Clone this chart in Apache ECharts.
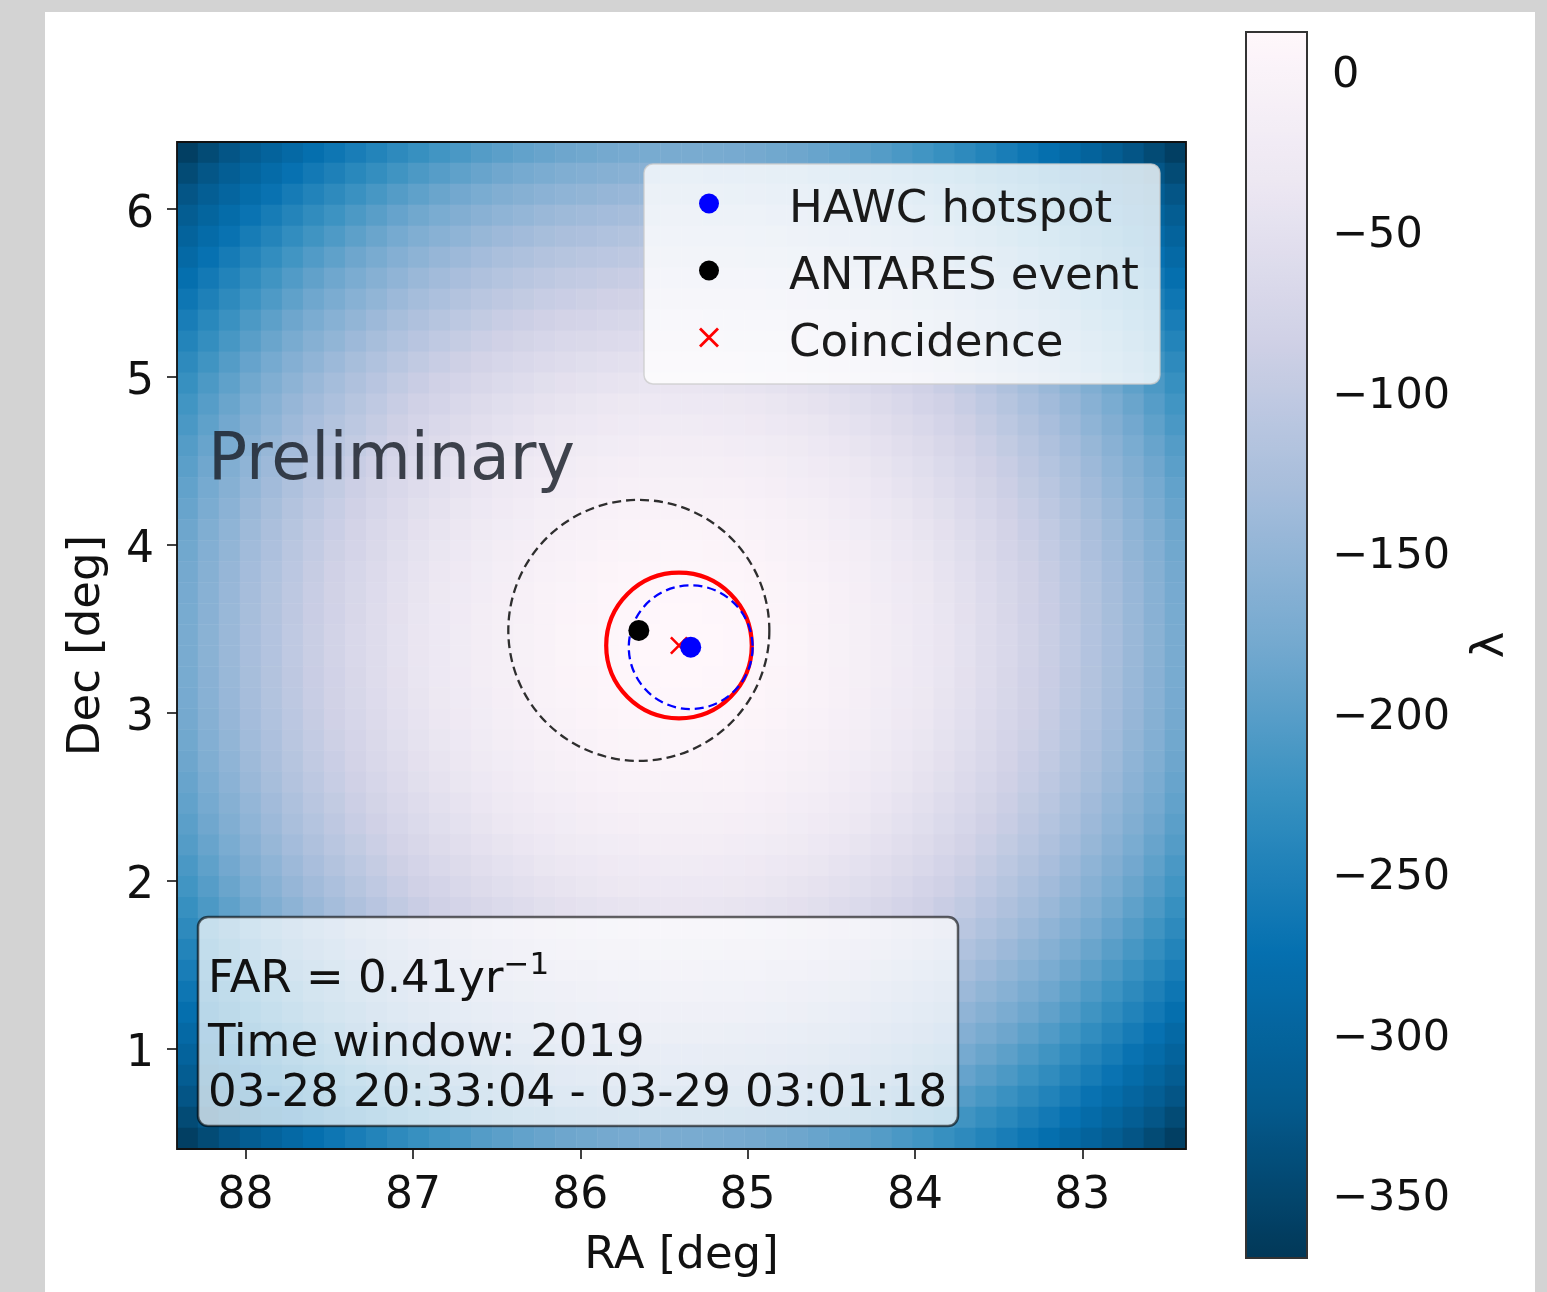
<!DOCTYPE html>
<html>
<head>
<meta charset="utf-8">
<script src="https://cdn.jsdelivr.net/npm/echarts@6/dist/echarts.min.js"></script>
<style>
html, body { margin: 0; padding: 0; background: #d3d3d3; }
#fig { position: absolute; left: 45px; top: 12px; width: 1490px; height: 1280px; background: #ffffff; }
#chart { position: absolute; left: 0; top: 0; width: 1547px; height: 1292px; }
</style>
</head>
<body>
<div id="fig"></div>
<div id="chart"></div>
<script>
// ---------------- data ----------------
const raTicks = [88, 87, 86, 85, 84, 83];
const decTicks = [1, 2, 3, 4, 5, 6];
const lambdaTicks = [0, -50, -100, -150, -200, -250, -300, -350];
const raRange = [82.38, 88.41];
const decRange = [0.40, 6.40];
const lambdaRange = [-370, 12];

const hawcHotspot = [85.34, 3.39];
const antaresEvent = [85.65, 3.49];
const coincidence = [85.41, 3.40];
const antaresRadius = 0.78;
const hawcRadius = 0.37;
const coincidenceRadius = 0.435;

const legendNames = ['HAWC hotspot', 'ANTARES event', 'Coincidence'];
const farText = 'FAR = 0.41yr';
const farExp = '\u22121';
const windowLine1 = 'Time window: 2019';
const windowLine2 = '03-28 20:33:04 - 03-29 03:01:18';

// λ map (48 x 48 cells of ~0.125 deg), rows from top (Dec 6.4) to bottom (Dec 0.4),
// columns from left (RA 88.4) to right (RA 82.4)
const lambdaRows = [
  [-360,-344,-329,-315,-302,-289,-277,-266,-255,-245,-235,-226,-218,-211,-204,-198,-193,-188,-184,-181,-178,-176,-175,-174,-174,-175,-176,-178,-181,-184,-188,-193,-198,-204,-211,-218,-226,-235,-245,-255,-266,-277,-289,-302,-315,-329,-344,-360],
  [-344,-328,-313,-299,-286,-273,-261,-250,-239,-229,-219,-210,-202,-195,-188,-182,-177,-172,-168,-165,-162,-160,-159,-158,-158,-159,-160,-162,-165,-168,-172,-177,-182,-188,-195,-202,-210,-219,-229,-239,-250,-261,-273,-286,-299,-313,-328,-344],
  [-329,-313,-298,-284,-271,-258,-246,-235,-224,-214,-204,-195,-187,-180,-173,-167,-162,-157,-153,-150,-147,-145,-144,-143,-143,-144,-145,-147,-150,-153,-157,-162,-167,-173,-180,-187,-195,-204,-214,-224,-235,-246,-258,-271,-284,-298,-313,-329],
  [-315,-299,-284,-270,-257,-244,-232,-221,-210,-200,-190,-181,-173,-166,-159,-153,-148,-143,-139,-136,-133,-131,-130,-129,-129,-130,-131,-133,-136,-139,-143,-148,-153,-159,-166,-173,-181,-190,-200,-210,-221,-232,-244,-257,-270,-284,-299,-315],
  [-302,-286,-271,-257,-244,-231,-219,-208,-197,-187,-177,-168,-160,-153,-146,-140,-135,-130,-126,-123,-120,-118,-117,-116,-116,-117,-118,-120,-123,-126,-130,-135,-140,-146,-153,-160,-168,-177,-187,-197,-208,-219,-231,-244,-257,-271,-286,-302],
  [-289,-273,-258,-244,-231,-218,-206,-195,-184,-174,-164,-155,-147,-140,-133,-127,-122,-117,-113,-110,-107,-105,-104,-103,-103,-104,-105,-107,-110,-113,-117,-122,-127,-133,-140,-147,-155,-164,-174,-184,-195,-206,-218,-231,-244,-258,-273,-289],
  [-277,-261,-246,-232,-219,-206,-194,-183,-172,-162,-152,-143,-135,-128,-121,-115,-110,-105,-101,-98,-95,-93,-92,-91,-91,-92,-93,-95,-98,-101,-105,-110,-115,-121,-128,-135,-143,-152,-162,-172,-183,-194,-206,-219,-232,-246,-261,-277],
  [-266,-250,-235,-221,-208,-195,-183,-172,-161,-151,-141,-132,-124,-117,-110,-104,-99,-94,-90,-87,-84,-82,-81,-80,-80,-81,-82,-84,-87,-90,-94,-99,-104,-110,-117,-124,-132,-141,-151,-161,-172,-183,-195,-208,-221,-235,-250,-266],
  [-255,-239,-224,-210,-197,-184,-172,-161,-150,-140,-130,-121,-113,-106,-99,-93,-88,-83,-79,-76,-73,-71,-70,-69,-69,-70,-71,-73,-76,-79,-83,-88,-93,-99,-106,-113,-121,-130,-140,-150,-161,-172,-184,-197,-210,-224,-239,-255],
  [-245,-229,-214,-200,-187,-174,-162,-151,-140,-130,-120,-111,-103,-96,-89,-83,-78,-73,-69,-66,-63,-61,-60,-59,-59,-60,-61,-63,-66,-69,-73,-78,-83,-89,-96,-103,-111,-120,-130,-140,-151,-162,-174,-187,-200,-214,-229,-245],
  [-235,-219,-204,-190,-177,-164,-152,-141,-130,-120,-110,-101,-93,-86,-79,-73,-68,-63,-59,-56,-53,-51,-50,-49,-49,-50,-51,-53,-56,-59,-63,-68,-73,-79,-86,-93,-101,-110,-120,-130,-141,-152,-164,-177,-190,-204,-219,-235],
  [-226,-210,-195,-181,-168,-155,-143,-132,-121,-111,-101,-92,-84,-77,-70,-64,-59,-54,-50,-47,-44,-42,-41,-40,-40,-41,-42,-44,-47,-50,-54,-59,-64,-70,-77,-84,-92,-101,-111,-121,-132,-143,-155,-168,-181,-195,-210,-226],
  [-218,-202,-187,-173,-160,-147,-135,-124,-113,-103,-93,-84,-76,-69,-62,-56,-51,-46,-42,-39,-36,-34,-33,-32,-32,-33,-34,-36,-39,-42,-46,-51,-56,-62,-69,-76,-84,-93,-103,-113,-124,-135,-147,-160,-173,-187,-202,-218],
  [-211,-195,-180,-166,-153,-140,-128,-117,-106,-96,-86,-77,-69,-62,-55,-49,-44,-39,-35,-32,-29,-27,-26,-25,-25,-26,-27,-29,-32,-35,-39,-44,-49,-55,-62,-69,-77,-86,-96,-106,-117,-128,-140,-153,-166,-180,-195,-211],
  [-204,-188,-173,-159,-146,-133,-121,-110,-99,-89,-79,-70,-62,-55,-48,-42,-37,-32,-28,-25,-22,-20,-19,-18,-18,-19,-20,-22,-25,-28,-32,-37,-42,-48,-55,-62,-70,-79,-89,-99,-110,-121,-133,-146,-159,-173,-188,-204],
  [-198,-182,-167,-153,-140,-127,-115,-104,-93,-83,-73,-64,-56,-49,-42,-36,-31,-26,-22,-19,-16,-14,-13,-12,-12,-13,-14,-16,-19,-22,-26,-31,-36,-42,-49,-56,-64,-73,-83,-93,-104,-115,-127,-140,-153,-167,-182,-198],
  [-193,-177,-162,-148,-135,-122,-110,-99,-88,-78,-68,-59,-51,-44,-37,-31,-26,-21,-17,-14,-11,-9,-8,-7,-7,-8,-9,-11,-14,-17,-21,-26,-31,-37,-44,-51,-59,-68,-78,-88,-99,-110,-122,-135,-148,-162,-177,-193],
  [-188,-172,-157,-143,-130,-117,-105,-94,-83,-73,-63,-54,-46,-39,-32,-26,-21,-16,-12,-9,-6,-4,-3,-2,-2,-3,-4,-6,-9,-12,-16,-21,-26,-32,-39,-46,-54,-63,-73,-83,-94,-105,-117,-130,-143,-157,-172,-188],
  [-184,-168,-153,-139,-126,-113,-101,-90,-79,-69,-59,-50,-42,-35,-28,-22,-17,-12,-8,-5,-2,0,1,2,2,1,0,-2,-5,-8,-12,-17,-22,-28,-35,-42,-50,-59,-69,-79,-90,-101,-113,-126,-139,-153,-168,-184],
  [-181,-165,-150,-136,-123,-110,-98,-87,-76,-66,-56,-47,-39,-32,-25,-19,-14,-9,-5,-2,1,3,4,5,5,4,3,1,-2,-5,-9,-14,-19,-25,-32,-39,-47,-56,-66,-76,-87,-98,-110,-123,-136,-150,-165,-181],
  [-178,-162,-147,-133,-120,-107,-95,-84,-73,-63,-53,-44,-36,-29,-22,-16,-11,-6,-2,1,4,6,7,8,8,7,6,4,1,-2,-6,-11,-16,-22,-29,-36,-44,-53,-63,-73,-84,-95,-107,-120,-133,-147,-162,-178],
  [-176,-160,-145,-131,-118,-105,-93,-82,-71,-61,-51,-42,-34,-27,-20,-14,-9,-4,0,3,6,8,9,10,10,9,8,6,3,0,-4,-9,-14,-20,-27,-34,-42,-51,-61,-71,-82,-93,-105,-118,-131,-145,-160,-176],
  [-175,-159,-144,-130,-117,-104,-92,-81,-70,-60,-50,-41,-33,-26,-19,-13,-8,-3,1,4,7,9,10,11,11,10,9,7,4,1,-3,-8,-13,-19,-26,-33,-41,-50,-60,-70,-81,-92,-104,-117,-130,-144,-159,-175],
  [-174,-158,-143,-129,-116,-103,-91,-80,-69,-59,-49,-40,-32,-25,-18,-12,-7,-2,2,5,8,10,11,12,12,11,10,8,5,2,-2,-7,-12,-18,-25,-32,-40,-49,-59,-69,-80,-91,-103,-116,-129,-143,-158,-174],
  [-174,-158,-143,-129,-116,-103,-91,-80,-69,-59,-49,-40,-32,-25,-18,-12,-7,-2,2,5,8,10,11,12,12,11,10,8,5,2,-2,-7,-12,-18,-25,-32,-40,-49,-59,-69,-80,-91,-103,-116,-129,-143,-158,-174],
  [-175,-159,-144,-130,-117,-104,-92,-81,-70,-60,-50,-41,-33,-26,-19,-13,-8,-3,1,4,7,9,10,11,11,10,9,7,4,1,-3,-8,-13,-19,-26,-33,-41,-50,-60,-70,-81,-92,-104,-117,-130,-144,-159,-175],
  [-176,-160,-145,-131,-118,-105,-93,-82,-71,-61,-51,-42,-34,-27,-20,-14,-9,-4,0,3,6,8,9,10,10,9,8,6,3,0,-4,-9,-14,-20,-27,-34,-42,-51,-61,-71,-82,-93,-105,-118,-131,-145,-160,-176],
  [-178,-162,-147,-133,-120,-107,-95,-84,-73,-63,-53,-44,-36,-29,-22,-16,-11,-6,-2,1,4,6,7,8,8,7,6,4,1,-2,-6,-11,-16,-22,-29,-36,-44,-53,-63,-73,-84,-95,-107,-120,-133,-147,-162,-178],
  [-181,-165,-150,-136,-123,-110,-98,-87,-76,-66,-56,-47,-39,-32,-25,-19,-14,-9,-5,-2,1,3,4,5,5,4,3,1,-2,-5,-9,-14,-19,-25,-32,-39,-47,-56,-66,-76,-87,-98,-110,-123,-136,-150,-165,-181],
  [-184,-168,-153,-139,-126,-113,-101,-90,-79,-69,-59,-50,-42,-35,-28,-22,-17,-12,-8,-5,-2,0,1,2,2,1,0,-2,-5,-8,-12,-17,-22,-28,-35,-42,-50,-59,-69,-79,-90,-101,-113,-126,-139,-153,-168,-184],
  [-188,-172,-157,-143,-130,-117,-105,-94,-83,-73,-63,-54,-46,-39,-32,-26,-21,-16,-12,-9,-6,-4,-3,-2,-2,-3,-4,-6,-9,-12,-16,-21,-26,-32,-39,-46,-54,-63,-73,-83,-94,-105,-117,-130,-143,-157,-172,-188],
  [-193,-177,-162,-148,-135,-122,-110,-99,-88,-78,-68,-59,-51,-44,-37,-31,-26,-21,-17,-14,-11,-9,-8,-7,-7,-8,-9,-11,-14,-17,-21,-26,-31,-37,-44,-51,-59,-68,-78,-88,-99,-110,-122,-135,-148,-162,-177,-193],
  [-198,-182,-167,-153,-140,-127,-115,-104,-93,-83,-73,-64,-56,-49,-42,-36,-31,-26,-22,-19,-16,-14,-13,-12,-12,-13,-14,-16,-19,-22,-26,-31,-36,-42,-49,-56,-64,-73,-83,-93,-104,-115,-127,-140,-153,-167,-182,-198],
  [-204,-188,-173,-159,-146,-133,-121,-110,-99,-89,-79,-70,-62,-55,-48,-42,-37,-32,-28,-25,-22,-20,-19,-18,-18,-19,-20,-22,-25,-28,-32,-37,-42,-48,-55,-62,-70,-79,-89,-99,-110,-121,-133,-146,-159,-173,-188,-204],
  [-211,-195,-180,-166,-153,-140,-128,-117,-106,-96,-86,-77,-69,-62,-55,-49,-44,-39,-35,-32,-29,-27,-26,-25,-25,-26,-27,-29,-32,-35,-39,-44,-49,-55,-62,-69,-77,-86,-96,-106,-117,-128,-140,-153,-166,-180,-195,-211],
  [-218,-202,-187,-173,-160,-147,-135,-124,-113,-103,-93,-84,-76,-69,-62,-56,-51,-46,-42,-39,-36,-34,-33,-32,-32,-33,-34,-36,-39,-42,-46,-51,-56,-62,-69,-76,-84,-93,-103,-113,-124,-135,-147,-160,-173,-187,-202,-218],
  [-226,-210,-195,-181,-168,-155,-143,-132,-121,-111,-101,-92,-84,-77,-70,-64,-59,-54,-50,-47,-44,-42,-41,-40,-40,-41,-42,-44,-47,-50,-54,-59,-64,-70,-77,-84,-92,-101,-111,-121,-132,-143,-155,-168,-181,-195,-210,-226],
  [-235,-219,-204,-190,-177,-164,-152,-141,-130,-120,-110,-101,-93,-86,-79,-73,-68,-63,-59,-56,-53,-51,-50,-49,-49,-50,-51,-53,-56,-59,-63,-68,-73,-79,-86,-93,-101,-110,-120,-130,-141,-152,-164,-177,-190,-204,-219,-235],
  [-245,-229,-214,-200,-187,-174,-162,-151,-140,-130,-120,-111,-103,-96,-89,-83,-78,-73,-69,-66,-63,-61,-60,-59,-59,-60,-61,-63,-66,-69,-73,-78,-83,-89,-96,-103,-111,-120,-130,-140,-151,-162,-174,-187,-200,-214,-229,-245],
  [-255,-239,-224,-210,-197,-184,-172,-161,-150,-140,-130,-121,-113,-106,-99,-93,-88,-83,-79,-76,-73,-71,-70,-69,-69,-70,-71,-73,-76,-79,-83,-88,-93,-99,-106,-113,-121,-130,-140,-150,-161,-172,-184,-197,-210,-224,-239,-255],
  [-266,-250,-235,-221,-208,-195,-183,-172,-161,-151,-141,-132,-124,-117,-110,-104,-99,-94,-90,-87,-84,-82,-81,-80,-80,-81,-82,-84,-87,-90,-94,-99,-104,-110,-117,-124,-132,-141,-151,-161,-172,-183,-195,-208,-221,-235,-250,-266],
  [-277,-261,-246,-232,-219,-206,-194,-183,-172,-162,-152,-143,-135,-128,-121,-115,-110,-105,-101,-98,-95,-93,-92,-91,-91,-92,-93,-95,-98,-101,-105,-110,-115,-121,-128,-135,-143,-152,-162,-172,-183,-194,-206,-219,-232,-246,-261,-277],
  [-289,-273,-258,-244,-231,-218,-206,-195,-184,-174,-164,-155,-147,-140,-133,-127,-122,-117,-113,-110,-107,-105,-104,-103,-103,-104,-105,-107,-110,-113,-117,-122,-127,-133,-140,-147,-155,-164,-174,-184,-195,-206,-218,-231,-244,-258,-273,-289],
  [-302,-286,-271,-257,-244,-231,-219,-208,-197,-187,-177,-168,-160,-153,-146,-140,-135,-130,-126,-123,-120,-118,-117,-116,-116,-117,-118,-120,-123,-126,-130,-135,-140,-146,-153,-160,-168,-177,-187,-197,-208,-219,-231,-244,-257,-271,-286,-302],
  [-315,-299,-284,-270,-257,-244,-232,-221,-210,-200,-190,-181,-173,-166,-159,-153,-148,-143,-139,-136,-133,-131,-130,-129,-129,-130,-131,-133,-136,-139,-143,-148,-153,-159,-166,-173,-181,-190,-200,-210,-221,-232,-244,-257,-270,-284,-299,-315],
  [-329,-313,-298,-284,-271,-258,-246,-235,-224,-214,-204,-195,-187,-180,-173,-167,-162,-157,-153,-150,-147,-145,-144,-143,-143,-144,-145,-147,-150,-153,-157,-162,-167,-173,-180,-187,-195,-204,-214,-224,-235,-246,-258,-271,-284,-298,-313,-329],
  [-344,-328,-313,-299,-286,-273,-261,-250,-239,-229,-219,-210,-202,-195,-188,-182,-177,-172,-168,-165,-162,-160,-159,-158,-158,-159,-160,-162,-165,-168,-172,-177,-182,-188,-195,-202,-210,-219,-229,-239,-250,-261,-273,-286,-299,-313,-328,-344],
  [-360,-344,-329,-315,-302,-289,-277,-266,-255,-245,-235,-226,-218,-211,-204,-198,-193,-188,-184,-181,-178,-176,-175,-174,-174,-175,-176,-178,-181,-184,-188,-193,-198,-204,-211,-218,-226,-235,-245,-255,-266,-277,-289,-302,-315,-329,-344,-360]
];

// ---------------- build chart ----------------
const FONT = 'DejaVu Sans';
const PuBu_r = ['#023858', '#045a8d', '#0570b0', '#3690c0', '#74a9cf', '#a6bddb', '#d0d1e6', '#ece7f2', '#fff7fb'];

const heatData = [];
lambdaRows.forEach((row, j) => row.forEach((v, i) => heatData.push([i, j, v])));
const colCats = lambdaRows[0].map((_, i) => String(i));
const rowCats = lambdaRows.map((_, j) => String(j));

const PLOT = { left: 177, top: 142, width: 1009, height: 1007 };
const CBAR = { left: 1246, top: 32, width: 61, height: 1226 };

const xPath = 'path://M0,1L1,0L10,9L9,10ZM9,0L10,1L1,10L0,9Z';

function circleSeries(center, radius, style, z) {
  return {
    type: 'custom',
    xAxisIndex: 1, yAxisIndex: 1,
    silent: true,
    z: z,
    encode: { x: 0, y: 1 },
    data: [[center[0], center[1], radius]],
    renderItem: function (params, api) {
      const c = api.coord([api.value(0), api.value(1)]);
      const r = api.size([api.value(2), 0])[0];
      return {
        type: 'circle',
        shape: { cx: c[0], cy: c[1], r: r },
        style: Object.assign({ fill: 'none' }, style)
      };
    }
  };
}

const minus = v => String(v).replace('-', '\u2212');

const option = {
  animation: false,
  backgroundColor: 'transparent',
  textStyle: { fontFamily: FONT },
  grid: [
    Object.assign({}, PLOT),
    Object.assign({}, PLOT),
    Object.assign({}, CBAR)
  ],
  xAxis: [
    { gridIndex: 0, type: 'category', data: colCats, show: false, boundaryGap: true },
    {
      gridIndex: 1, type: 'value', min: raRange[0], max: raRange[1], inverse: true,
      axisLine: { show: false },
      axisTick: { show: true, customValues: raTicks, length: 10, lineStyle: { color: '#111', width: 1.6 } },
      axisLabel: { customValues: raTicks, fontSize: 44, color: '#111', margin: 26, fontFamily: FONT },
      splitLine: { show: false },
      name: 'RA [deg]', nameLocation: 'middle', nameGap: 85,
      nameTextStyle: { fontSize: 45, color: '#111', fontFamily: FONT }
    },
    { gridIndex: 2, type: 'value', min: 0, max: 1, show: false }
  ],
  yAxis: [
    { gridIndex: 0, type: 'category', data: rowCats, show: false, inverse: true, boundaryGap: true },
    {
      gridIndex: 1, type: 'value', min: decRange[0], max: decRange[1],
      axisLine: { show: false },
      axisTick: { show: true, customValues: decTicks, length: 10, lineStyle: { color: '#111', width: 1.6 } },
      axisLabel: { customValues: decTicks, fontSize: 44, color: '#111', margin: 23, fontFamily: FONT, verticalAlign: 'top', lineHeight: 12 },
      splitLine: { show: false },
      name: 'Dec [deg]', nameLocation: 'middle', nameGap: 67, nameRotate: 90,
      nameTextStyle: { fontSize: 45, color: '#111', fontFamily: FONT }
    },
    {
      gridIndex: 2, type: 'value', min: lambdaRange[0], max: lambdaRange[1], position: 'right',
      axisLine: { show: false },
      axisTick: { show: true, customValues: lambdaTicks, length: 11, lineStyle: { color: '#222', width: 1.6 } },
      axisLabel: { customValues: lambdaTicks, fontSize: 43, color: '#111', margin: 25, fontFamily: FONT, formatter: minus, verticalAlign: 'top', lineHeight: 10 },
      splitLine: { show: false },
      name: 'λ', nameLocation: 'middle', nameGap: 162, nameRotate: 90,
      nameTextStyle: { fontSize: 45, color: '#111', fontFamily: FONT }
    }
  ],
  visualMap: {
    type: 'continuous',
    seriesIndex: 0,
    dimension: 2,
    min: lambdaRange[0],
    max: lambdaRange[1],
    inRange: { color: PuBu_r },
    calculable: false,
    hoverLink: false,
    orient: 'vertical',
    left: CBAR.left,
    top: CBAR.top,
    itemWidth: CBAR.width,
    itemHeight: CBAR.height,
    padding: 0,
    text: null,
    show: true
  },
  legend: {
    data: legendNames,
    orient: 'vertical',
    left: 644,
    top: 164,
    padding: [10, 21, 17, 55],
    itemWidth: 20,
    itemHeight: 20,
    itemGap: 8,
    selectedMode: false,
    backgroundColor: 'rgba(255,255,255,0.8)',
    borderColor: 'rgba(204,204,204,0.8)',
    borderWidth: 1.5,
    borderRadius: 9,
    formatter: '{t|{name}}',
    textStyle: {
      fontSize: 45, color: '#1a1a1a', fontFamily: FONT,
      rich: { t: { fontSize: 45, color: '#1a1a1a', fontFamily: FONT, lineHeight: 48, padding: [14, 0, 0, 65] } }
    }
  },
  series: [
    {
      type: 'heatmap',
      xAxisIndex: 0, yAxisIndex: 0,
      data: heatData,
      silent: true,
      itemStyle: { borderWidth: 0 },
      emphasis: { disabled: true },
      progressive: 0,
      z: 1
    },
    circleSeries(antaresEvent, antaresRadius, { stroke: '#2e2e2e', lineWidth: 2.3, lineDash: [9, 5] }, 3),
    circleSeries(coincidence, coincidenceRadius, { stroke: '#ff0000', lineWidth: 4.2 }, 3),
    circleSeries(hawcHotspot, hawcRadius, { stroke: '#0000ff', lineWidth: 2.3, lineDash: [9, 5] }, 3),
    {
      name: 'ANTARES event', type: 'scatter', xAxisIndex: 1, yAxisIndex: 1,
      data: [antaresEvent], symbol: 'circle', symbolSize: 21,
      itemStyle: { color: '#000000', opacity: 1 }, silent: true, z: 4
    },
    {
      name: 'Coincidence', type: 'scatter', xAxisIndex: 1, yAxisIndex: 1,
      data: [coincidence], symbol: xPath, symbolSize: 18,
      itemStyle: { color: '#ff0000', opacity: 1 }, silent: true, z: 4
    },
    {
      name: 'HAWC hotspot', type: 'scatter', xAxisIndex: 1, yAxisIndex: 1,
      data: [hawcHotspot], symbol: 'circle', symbolSize: 21,
      itemStyle: { color: '#0000ff', opacity: 1 }, silent: true, z: 5
    }
  ],
  graphic: [
    {
      type: 'rect', z: 50, silent: true,
      shape: { x: PLOT.left, y: PLOT.top, width: PLOT.width, height: PLOT.height },
      style: { fill: null, stroke: '#111', lineWidth: 1.8 }
    },
    {
      type: 'rect', z: 50, silent: true,
      shape: { x: CBAR.left, y: CBAR.top, width: CBAR.width, height: CBAR.height },
      style: { fill: null, stroke: '#333', lineWidth: 2 }
    },
    {
      type: 'text', z: 40, silent: true, x: 208, y: 462,
      style: { text: 'Preliminary', fontSize: 65, fontFamily: FONT, fill: 'rgba(30,36,46,0.85)', verticalAlign: 'middle', align: 'left' }
    },
    {
      type: 'rect', z: 40, silent: true,
      shape: { x: 198, y: 917, width: 760, height: 209, r: 10 },
      style: { fill: 'rgba(255,255,255,0.7)', stroke: 'rgba(0,0,0,0.6)', lineWidth: 2.5 }
    },
    {
      type: 'text', z: 41, silent: true, x: 208, y: 980,
      style: {
        text: '{b|' + farText + '}{s|' + farExp + '}',
        verticalAlign: 'middle', align: 'left',
        rich: {
          b: { fontSize: 45, fontFamily: FONT, fill: '#111', lineHeight: 60, verticalAlign: 'middle' },
          s: { fontSize: 31, fontFamily: FONT, fill: '#111', lineHeight: 26, verticalAlign: 'top' }
        }
      }
    },
    {
      type: 'text', z: 41, silent: true, x: 208, y: 1044,
      style: { text: windowLine1, fontSize: 45, fontFamily: FONT, fill: '#111', verticalAlign: 'middle', align: 'left' }
    },
    {
      type: 'text', z: 41, silent: true, x: 208, y: 1094,
      style: { text: windowLine2, fontSize: 45, fontFamily: FONT, fill: '#111', verticalAlign: 'middle', align: 'left' }
    }
  ]
};

const chart = echarts.init(document.getElementById('chart'), null, { renderer: 'canvas', width: 1547, height: 1292 });
chart.setOption(option);
</script>
</body>
</html>
